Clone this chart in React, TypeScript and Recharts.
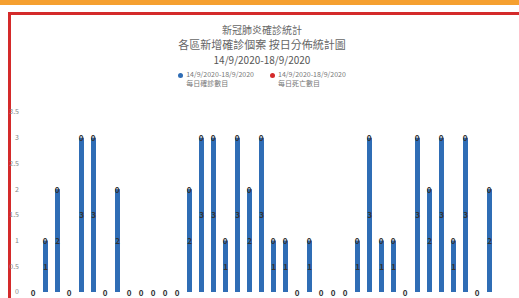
import React from 'react'
import { ComposedChart, Bar, Line, XAxis, YAxis, LabelList } from 'recharts'

const categories = [
  '第1組', '第2組', '第3組', '第4組', '第5組', '第6組', '第7組', '第8組', '第9組', '第10組',
  '第11組', '第12組', '第13組', '第14組', '第15組', '第16組', '第17組', '第18組', '第19組', '第20組',
  '第21組', '第22組', '第23組', '第24組', '第25組', '第26組', '第27組', '第28組', '第29組', '第30組',
  '第31組', '第32組', '第33組', '第34組', '第35組', '第36組', '第37組', '第38組', '第39組',
]

// 每日確診數目
const blueValues = [
  0, 1, 2, 0, 3, 3, 0, 2, 0, 0, 0, 0, 0, 2, 3, 3, 1, 3, 2, 3,
  1, 1, 0, 1, 0, 0, 0, 1, 3, 1, 1, 0, 3, 2, 3, 1, 3, 0, 2,
]

// 每日死亡數目
const redValues = [
  0, 0, 0, 0, 0, 0, 0, 0, 0, 0, 0, 0, 0, 0, 0, 0, 0, 0, 0, 0,
  0, 0, 0, 0, 0, 0, 0, 0, 0, 0, 0, 0, 0, 0, 0, 0, 0, 0, 0,
]

const yTicks = [0, 0.5, 1, 1.5, 2, 2.5, 3, 3.5]

const titleLines = ['新冠肺炎確診統計', '各區新增確診個案 按日分佈統計圖', '14/9/2020-18/9/2020']
const seriesNames = ['14/9/2020-18/9/2020', '14/9/2020-18/9/2020']
const seriesSubNames = ['每日確診數目', '每日死亡數目']

const BLUE = '#2f6db5'
const RED = '#d42a2a'
const FONT = '"Noto Sans CJK TC", "Noto Sans", sans-serif'

const data = categories.map((name, i) => ({
  name,
  blue: blueValues[i],
  red: redValues[i],
}))

function LegendBox() {
  const colors = [BLUE, RED]
  return (
    <div style={{ display: 'flex', justifyContent: 'center', gap: 16, fontFamily: FONT }}>
      {seriesNames.map((n, i) => (
        <div key={i} style={{ display: 'flex', alignItems: 'flex-start', gap: 3 }}>
          <span
            style={{
              width: 5,
              height: 5,
              borderRadius: '50%',
              background: colors[i],
              marginTop: 3,
            }}
          />
          <div style={{ fontSize: 7, lineHeight: '9px', color: '#777' }}>
            <div>{n}</div>
            <div>{seriesSubNames[i]}</div>
          </div>
        </div>
      ))}
    </div>
  )
}

const valueText = (x: number, y: number, value: any) => (
  <text
    x={x}
    y={y}
    textAnchor="middle"
    dominantBaseline="central"
    fontSize={8}
    fontWeight="bold"
    fill="#333"
    fontFamily={FONT}
  >
    {value}
  </text>
)

export default function App() {
  return (
    <div
      style={{
        position: 'absolute',
        left: 0,
        top: 0,
        width: 519,
        height: 298,
        overflow: 'hidden',
        background: '#fff',
      }}
    >
      {/* page header strip and frame */}
      <div style={{ position: 'absolute', left: 0, top: 0, width: 519, height: 5, background: '#f5a030' }} />
      <div
        style={{
          position: 'absolute',
          left: 8,
          top: 12,
          width: 530,
          height: 320,
          borderLeft: `3px solid ${RED}`,
          borderTop: `3px solid ${RED}`,
          boxSizing: 'border-box',
        }}
      />
      <div
        style={{
          position: 'absolute',
          left: 0,
          top: 22,
          width: 524,
          textAlign: 'center',
          fontFamily: FONT,
          color: '#666',
        }}
      >
        <div style={{ fontSize: 10, lineHeight: '15px' }}>{titleLines[0]}</div>
        <div style={{ fontSize: 11, lineHeight: '15px' }}>{titleLines[1]}</div>
        <div style={{ fontSize: 10, lineHeight: '15px', color: '#555' }}>{titleLines[2]}</div>
      </div>
      <div style={{ position: 'absolute', left: 0, top: 70, width: 524 }}>
        <LegendBox />
      </div>
      <div style={{ position: 'absolute', left: 0, top: 0 }}>
        <ComposedChart
          width={519}
          height={330}
          data={data}
          margin={{ top: 112, right: 24, left: 2, bottom: 38 }}
          barCategoryGap={0}
        >
          <XAxis dataKey="name" hide />
          <YAxis
            width={25}
            domain={[0, 3.5]}
            ticks={yTicks}
            axisLine={false}
            tickLine={false}
            tick={{ fontSize: 7, fill: '#888', fontFamily: FONT }}
          />
          <Bar dataKey="blue" stackId="a" fill={BLUE} barSize={5} isAnimationActive={false}>
            <LabelList
              dataKey="blue"
              content={(p: any) => (p.value ? valueText(p.x + p.width / 2, p.y + p.height / 2, p.value) : null)}
            />
          </Bar>
          <Bar dataKey="red" stackId="a" fill={RED} barSize={5} isAnimationActive={false} />
          {/* 死亡數目標籤, 放在每條柱頂 */}
          <Line
            dataKey="blue"
            stroke="none"
            dot={false}
            activeDot={false}
            legendType="none"
            isAnimationActive={false}
            label={(p: any) => valueText(p.x, p.y, redValues[p.index])}
          />
        </ComposedChart>
      </div>
    </div>
  )
}
